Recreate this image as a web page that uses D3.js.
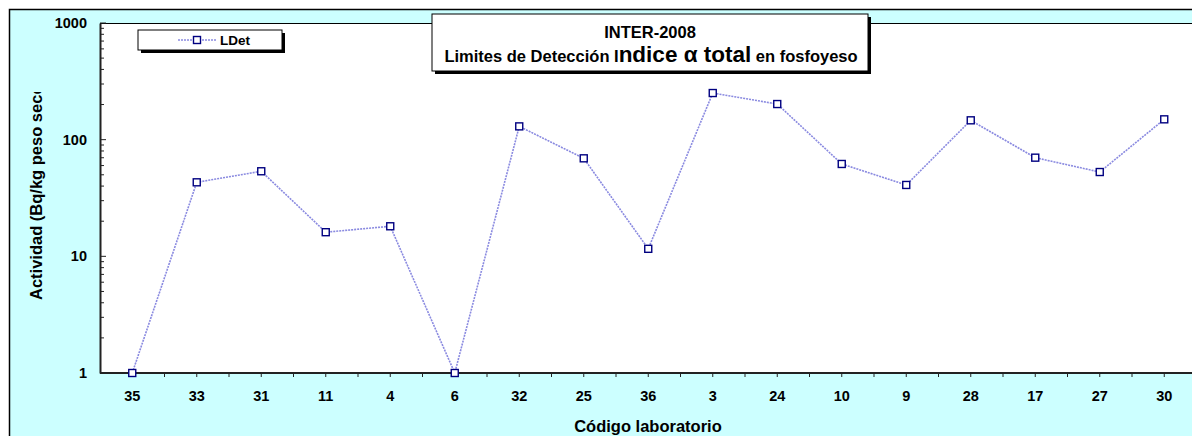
<!DOCTYPE html>
<html>
<head>
<meta charset="utf-8">
<script src="https://cdn.jsdelivr.net/npm/d3@7"></script>
<style>
  body { margin: 0; background: #fff; }
  svg { display: block; font-family: "Liberation Sans", Arial, sans-serif; }
</style>
</head>
<body>
<svg id="chart" width="1192" height="436"></svg>
<script>
// lab codes along the x axis, in plotted order
const labs = ["35", "33", "31", "11", "4", "6", "32", "25", "36", "3", "24", "10", "9", "28", "17", "27", "30"];
// detection limits (Bq/kg peso seco)
const ldet = [1, 43.1, 53.6, 16.1, 18.1, 1, 130, 69.2, 11.6, 251, 202, 61.9, 40.9, 146.5, 70.1, 52.8, 149.4];
const yTicks = [1, 10, 100, 1000];

const svg = d3.select("#chart");

// plot box
const plotL = 100, plotT = 23, plotB = 373;
const step = 64.5;

// background + outer frame
svg.append("rect").attr("x", 0).attr("y", 0).attr("width", 1192).attr("height", 436).attr("fill", "#fff");
svg.append("rect")
    .attr("x", 9.5).attr("y", 9.5)
    .attr("width", 1200).attr("height", 440)
    .attr("fill", "#ccffff")
    .attr("stroke", "#000").attr("stroke-width", 1.5);

const x = d3.scaleBand()
    .domain(labs)
    .range([plotL, plotL + step * labs.length])
    .padding(0);

const y = d3.scaleLog()
    .domain([1, 1000])
    .range([plotB, plotT]);

// plot area
svg.append("rect")
    .attr("x", plotL).attr("y", plotT)
    .attr("width", 1192 - plotL).attr("height", plotB - plotT)
    .attr("fill", "#fff");
svg.append("line")
    .attr("x1", plotL).attr("x2", 1192)
    .attr("y1", plotT + 0.5).attr("y2", plotT + 0.5)
    .attr("stroke", "#000").attr("stroke-width", 1.2);

// y axis, log ticks pointing inside
const yAxis = d3.axisLeft(y)
    .tickValues(yTicks)
    .tickFormat(d3.format("d"))
    .tickSize(0)
    .tickPadding(13);

const gy = svg.append("g")
    .attr("transform", `translate(${plotL},0)`)
    .call(yAxis);
gy.select(".domain").attr("stroke", "#222").attr("stroke-width", 2);
gy.selectAll("text").attr("font-size", 14.5).attr("font-weight", "bold").attr("fill", "#000");

const minor = y.ticks(); // 1..9, 10..90, 100..1000
svg.append("g").selectAll("line")
    .data(minor)
  .enter().append("line")
    .attr("x1", plotL).attr("x2", d => yTicks.includes(d) ? plotL + 6 : plotL + 4)
    .attr("y1", d => y(d)).attr("y2", d => y(d))
    .attr("stroke", "#222").attr("stroke-width", 1);

// x axis
const xAxis = d3.axisBottom(x).tickSize(0).tickPadding(18);
const gx = svg.append("g")
    .attr("transform", `translate(0,${plotB})`)
    .call(xAxis);
gx.select(".domain").attr("stroke", "#222").attr("stroke-width", 2).attr("d", `M${plotL},0H1192`);
gx.selectAll("text").attr("font-size", 14.5).attr("font-weight", "bold").attr("fill", "#000");

// ticks at every half category
const halfTicks = [];
labs.forEach(d => { halfTicks.push(x(d)); halfTicks.push(x(d) + x.bandwidth() / 2); });
svg.append("g").selectAll("line")
    .data(halfTicks.filter(v => v > plotL + 2))
  .enter().append("line")
    .attr("x1", d => d).attr("x2", d => d)
    .attr("y1", plotB).attr("y2", plotB + 4)
    .attr("stroke", "#222").attr("stroke-width", 1);

// axis titles
svg.append("text")
    .attr("x", 648).attr("y", 432)
    .attr("text-anchor", "middle")
    .attr("font-size", 16.5).attr("font-weight", "bold")
    .text("Código laboratorio");

svg.append("clipPath").attr("id", "ytclip")
  .append("rect").attr("x", 0).attr("y", 92).attr("width", 90).attr("height", 300);
svg.append("g")
    .attr("clip-path", "url(#ytclip)")
  .append("text")
    .attr("transform", "translate(42,300) rotate(-90)")
    .attr("font-size", 16.5).attr("font-weight", "bold")
    .text("Actividad (Bq/kg peso seco)");

// series
const cx = d => x(d) + x.bandwidth() / 2;
const pts = labs.map((d, i) => [cx(d), y(ldet[i])]);

svg.append("path")
    .datum(pts)
    .attr("d", d3.line())
    .attr("fill", "none")
    .attr("stroke", "#8a8ae0")
    .attr("stroke-width", 1.6)
    .attr("stroke-dasharray", "2,1");

svg.append("g").selectAll("rect")
    .data(pts)
  .enter().append("rect")
    .attr("x", d => d[0] - 3.5).attr("y", d => d[1] - 3.5)
    .attr("width", 7).attr("height", 7)
    .attr("fill", "#fff")
    .attr("stroke", "#000080").attr("stroke-width", 1.4);

// legend
const lg = svg.append("g");
lg.append("rect").attr("x", 141).attr("y", 33).attr("width", 144).attr("height", 20).attr("fill", "#000");
lg.append("rect").attr("x", 138).attr("y", 30).attr("width", 144).attr("height", 20)
    .attr("fill", "#fff").attr("stroke", "#000").attr("stroke-width", 1);
lg.append("line").attr("x1", 178).attr("x2", 217).attr("y1", 40).attr("y2", 40)
    .attr("stroke", "#8a8ae0").attr("stroke-width", 1.6).attr("stroke-dasharray", "2,1");
lg.append("rect").attr("x", 193.5).attr("y", 36.5).attr("width", 7).attr("height", 7)
    .attr("fill", "#fff").attr("stroke", "#000080").attr("stroke-width", 1.4);
lg.append("text").attr("x", 220).attr("y", 45)
    .attr("font-size", 13.5).attr("font-weight", "bold").text("LDet");

// title box
const tg = svg.append("g");
tg.append("rect").attr("x", 435).attr("y", 17).attr("width", 436).attr("height", 57).attr("fill", "#000");
tg.append("rect").attr("x", 432).attr("y", 14).attr("width", 436).attr("height", 57)
    .attr("fill", "#fff").attr("stroke", "#000").attr("stroke-width", 1);
tg.append("text").attr("x", 650).attr("y", 37.5)
    .attr("text-anchor", "middle")
    .attr("font-size", 16.5).attr("font-weight", "bold").text("INTER-2008");
const t2 = tg.append("text").attr("x", 651).attr("y", 62)
    .attr("text-anchor", "middle").attr("font-weight", "bold");
t2.append("tspan").attr("font-size", 16.5).text("Limites de Detección I");
t2.append("tspan").attr("font-size", 22.5).text("ndice α total");
t2.append("tspan").attr("font-size", 16.5).text(" en fosfoyeso");
</script>
</body>
</html>
